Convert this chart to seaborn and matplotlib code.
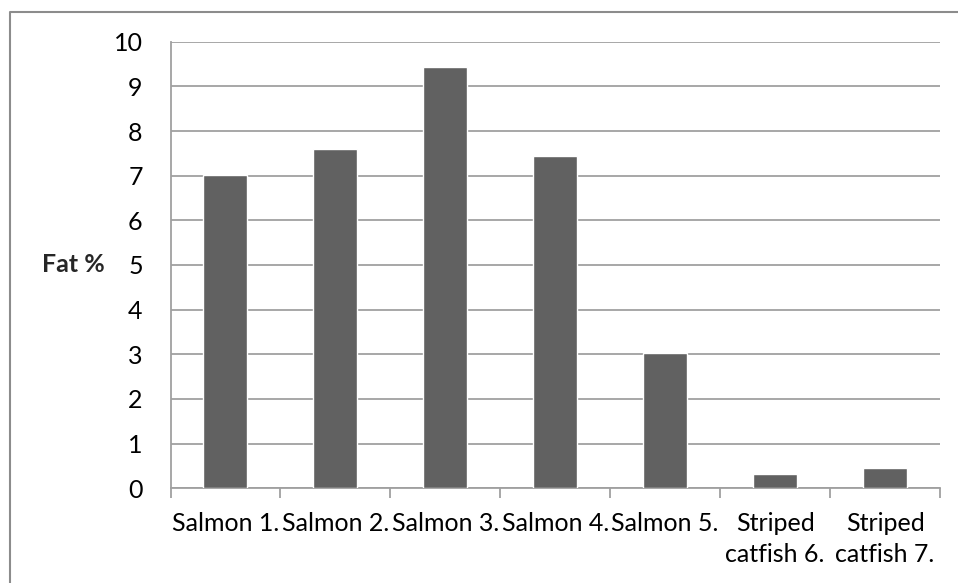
import matplotlib
matplotlib.use("Agg")
import matplotlib.pyplot as plt
import seaborn as sns
import pandas as pd
from matplotlib.lines import Line2D
from matplotlib.ticker import FixedLocator

categories = ["Salmon 1.", "Salmon 2.", "Salmon 3.", "Salmon 4.", "Salmon 5.",
              "Striped\ncatfish 6.", "Striped\ncatfish 7."]
fat_values = [7.02, 7.60, 9.43, 7.43, 3.03, 0.32, 0.46]
y_ticks = [0, 1, 2, 3, 4, 5, 6, 7, 8, 9, 10]
y_label = "Fat %"

sns.set_theme(style="white")
plt.rcParams['font.family'] = ['Lato', 'DejaVu Sans']

df = pd.DataFrame({"sample": categories, "fat": fat_values})

W, H = 958, 583
fig = plt.figure(figsize=(W / 100, H / 100), dpi=100)
fig.patch.set_facecolor("white")
ax_w = 940 - 170.5
ax = fig.add_axes([170.5 / W, 1 - 488.3 / H, ax_w / W, (488.3 - 41.7) / H])

sns.barplot(data=df, x="sample", y="fat", color="#616161", width=0.4,
            saturation=1, ax=ax, zorder=3)

grid_c = "#a0a0a0"
ax.set_ylim(0, 10)
ax.set_xlim(-0.5, len(categories) - 0.5)
ax.set_yticks(y_ticks)
ax.set_yticklabels([str(t) for t in y_ticks])
ax.yaxis.grid(True, color=grid_c, linewidth=1.3, zorder=0)
ax.xaxis.grid(False)
ax.set_axisbelow(True)

for s in ["top", "right"]:
    ax.spines[s].set_visible(False)
for s in ["left", "bottom"]:
    ax.spines[s].set_visible(True)
    ax.spines[s].set_color(grid_c)
    ax.spines[s].set_linewidth(1.3)

fs = 18
ax.tick_params(axis="y", which="major", direction="out", length=8, width=1.3,
               color=grid_c, labelsize=fs, pad=12, labelcolor="#000000")
ax.xaxis.set_minor_locator(FixedLocator([i - 0.5 for i in range(len(categories) + 1)]))
ax.tick_params(axis="x", which="major", length=0, labelsize=fs, pad=17,
               labelcolor="#000000")
ax.tick_params(axis="x", which="minor", direction="out", length=7, width=1.3,
               color=grid_c, bottom=True)
for lab in ax.get_xticklabels():
    lab.set_horizontalalignment("center")
    lab.set_multialignment("center")
    lab.set_linespacing(1.45)

ax.set_xlabel("")
ax.set_ylabel(y_label, rotation=0, fontsize=fs, fontweight="bold", labelpad=0)
ax.yaxis.set_label_coords((105 - 170.5) / ax_w, 0.5)
ax.yaxis.label.set_horizontalalignment("right")
ax.yaxis.label.set_verticalalignment("center")

# outer chart border (only left and top edges visible in the crop)
bc = "#8c8c8c"
x0 = 10 / W
y0 = 1 - 11.5 / H
fig.add_artist(Line2D([x0, x0, 1.01], [-0.01, y0, y0], transform=fig.transFigure,
                      color=bc, linewidth=1.5))

fig.savefig("out.png", dpi=100, facecolor="white")
